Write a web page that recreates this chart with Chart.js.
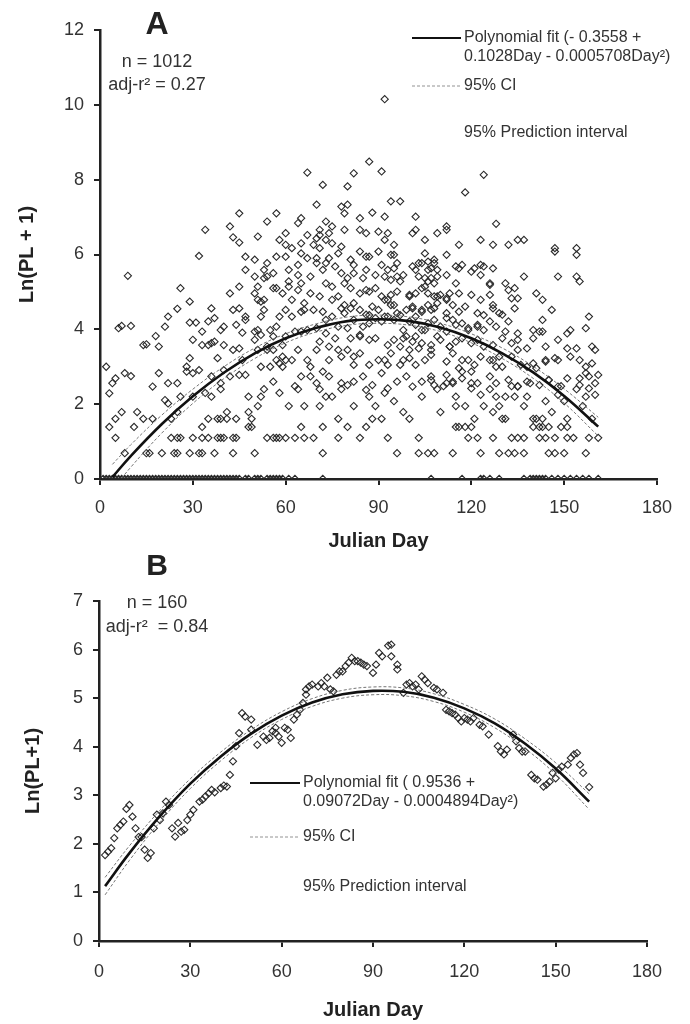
<!DOCTYPE html>
<html>
<head>
<meta charset="utf-8">
<script src="https://cdn.jsdelivr.net/npm/chart.js@4.4.1/dist/chart.umd.min.js"></script>
<style>
  body { margin: 0; background: #fff; }
  #wrap { position: relative; width: 690px; height: 1024px; }
  canvas { position: absolute; left: 0; }
</style>
</head>
<body>
<div id="wrap">
  <canvas id="chartA" width="690" height="560" style="top:0"></canvas>
  <canvas id="chartB" width="690" height="479" style="top:545px"></canvas>
</div>
<script>
// ---- panel A: individual samples ----
// days on which PL = 0 (ln(PL+1) = 0)
const zeroDaysA = [1,2,3,4,5,6,7,8,9,10,11,12,13,14,15,16,17,18,19,20,21,22,23,24,25,26,27,28,29,30,
    31,32,33,34,35,36,37,38,39,40,41,42,43,44,45,47,48,50,51,52,54,55,56,57,58,59,61,63,72,
    107,117,123,124,126,129,137,139,140,141,142,143,144,146,148,150,152,154,156,158,161];

// [Julian day, ln(PL+1)] for the non-zero samples
const samplesA = [
  [2,3.0],[3,2.29],[4,2.56],[5,2.69],[3,1.39],[5,1.61],[5,1.10],[6,4.03],[7,4.09],[8,2.83],[9,5.43],[10,4.09],[10,2.75],[7,1.79],[8,0.69],
  [11,1.39],[12,1.79],[14,3.58],[15,3.60],[14,1.61],[15,0.69],[16,0.69],[17,1.61],[17,2.47],[18,3.82],[19,3.54],[19,2.83],[20,0.69],
  [21,4.07],[22,4.34],[22,2.56],[22,2.02],[21,2.11],[23,1.10],[23,1.61],[24,0.69],[25,0.69],[25,4.55],[25,2.56],[25,1.79],[25,1.10],
  [26,5.10],[26,2.20],[26,1.10],[28,2.87],[28,3.0],[29,3.23],[29,0.69],[29,4.18],[29,4.74],[30,2.20],[30,2.83],[30,1.10],[30,3.72],
  [31,4.18],[32,0.69],[32,5.96],[32,2.91],[33,0.69],[33,1.39],[33,1.10],[33,3.94],[33,3.58],[34,2.30],[35,4.21],[35,3.58],[35,1.61],
  [35,1.10],[36,3.63],[36,4.56],[36,2.20],[36,2.74],[37,3.67],[37,0.69],[37,4.30],[38,1.61],[38,1.10],[38,3.23],[39,1.61],[39,2.56],
  [39,2.40],[39,1.10],[39,3.98],[40,2.91],[40,1.10],[40,4.07],[40,3.58],[41,1.79],[41,1.61],[42,4.96],[42,2.74],[43,4.52],[43,1.10],
  [43,0.69],[44,4.12],[44,1.61],[44,1.10],[45,2.78],[45,5.14],[45,4.56],[45,3.49],[46,3.91],[47,4.34],[47,4.25],[48,2.20],[48,1.79],
  [47,2.78],[48,1.39],[49,1.61],[49,1.39],[47,5.94],[47,5.59],[50,5.86],[50,3.94],[50,5.41],[51,5.14],[51,4.79],[51,3.98],[51,3.45],
  [51,1.95],[50,0.69],[52,3.85],[52,4.74],[52,3.0],[52,2.20],[53,2.40],[53,5.59],[53,5.37],[53,4.79],[54,5.77],[54,5.41],[54,3.54],
  [54,1.10],[54,3.45],[55,3.0],[56,1.10],[56,5.50],[56,5.10],[56,3.45],[56,2.60],[57,4.07],[57,1.10],[57,5.10],[57,3.18],[58,3.09],
  [58,1.10],[58,2.30],[59,3.27],[59,3.58],[59,3.0],[60,5.94],[60,1.10],[60,4.52],[60,3.81],[61,5.14],[61,5.28],[61,1.95],[62,4.79],
  [63,3.94],[63,2.48],[63,1.10],[64,5.72],[64,5.45],[64,5.05],[64,2.40],[65,4.47],[65,1.39],[65,5.23],[65,3.94],[66,1.10],[66,1.95],
  [66,4.70],[66,4.52],[67,3.18],[67,5.90],[68,3.0],[68,2.74],[68,4.96],[69,1.10],[70,5.77],[70,4.03],[70,5.90],[71,3.67],[71,2.40],
  [72,4.47],[72,1.39],[72,2.87],[72,0.69],[73,2.20],[73,3.89],[73,5.23],[74,3.18],[74,5.90],[75,2.20],[75,4.79],[76,3.76],[77,3.45],
  [77,1.10],[78,5.50],[78,2.40],[78,4.56],
  [50,4.96],[53,4.52],[55,3.98],[58,4.34],[59,4.96],[61,5.59],[62,4.34],[64,3.45],[67,3.98],[68,5.41],[69,4.52],[70,3.45],[71,4.88],
  [72,5.59],[73,4.25],[74,3.54],[75,5.14],[75,4.34],[76,5.68],[77,4.07],[77,4.88],[78,3.27],[79,4.43],[79,5.23],[62,3.18],[65,2.74],
  [70,2.56],[74,2.74],[78,2.56],[71,1.95],[77,1.61],[60,3.18],[56,3.81],[52,4.34],[50,3.72],[46,3.18],[43,3.45],[57,5.94],[65,6.03],
  [73,5.77],[77,6.03],
  [96,0.69],[103,0.69],[106,0.69],[108,0.69],[114,0.69],[123,0.69],[129,0.69],[132,0.69],[134,0.69],[137,0.69],[145,0.69],[147,0.69],
  [150,0.69],[157,0.69],
  [84,1.10],[93,1.10],[103,1.10],[119,1.10],[122,1.10],[127,1.10],[133,1.10],[135,1.10],[137,1.10],[142,1.10],[144,1.10],[147,1.10],
  [151,1.10],[153,1.10],[158,1.10],[161,1.10],
  [115,1.39],[116,1.39],[118,1.39],[120,1.39],[140,1.39],[142,1.39],[143,1.39],[145,1.39],[149,1.39],[151,1.39],
  [80,1.39],[86,1.39],[88,1.61],[91,1.61],[82,1.95],[87,2.20],[89,1.95],[92,2.30],[95,2.08],[98,1.79],[100,1.61],[104,2.20],[107,2.64],
  [110,1.79],[109,2.40],[111,2.48],[112,2.56],[114,2.56],[115,2.20],[115,1.95],[117,2.87],[118,1.95],[120,2.56],[121,1.61],[123,2.25],
  [124,1.95],[126,2.40],[127,1.79],[128,2.20],[129,1.95],[130,1.61],[131,1.61],[131,2.20],[133,2.48],[134,2.20],[135,2.48],[137,1.95],
  [138,2.20],[139,2.56],[140,1.61],[141,1.61],[143,1.61],[144,2.08],[145,2.64],[146,1.79],[148,2.25],[149,2.48],[150,2.08],[151,1.61],
  [154,2.40],[155,2.69],[156,1.95],[157,2.20],[158,2.74],[159,1.61],[160,2.56],[161,2.78],[160,2.25],
  [81,5.86],[86,5.94],[91,5.72],[92,5.41],[95,5.99],[96,5.77],[101,5.68],[104,5.77],[106,5.59],[109,5.41],[112,5.45],[115,5.68],
  [117,5.72],[120,5.54],[124,5.68],[126,5.19],[131,5.23],[134,5.10],[137,5.41],[141,4.96],[143,4.79],[146,4.52],[148,5.41],[154,5.41],
  [155,5.28],[147,6.08],[154,5.99],[135,4.83],[116,4.96],[112,4.79],[105,5.14],[100,4.88],[92,4.79],[86,5.05],[82,4.70],[87,4.38],
  [90,4.52],[93,4.34],[95,4.65],[97,4.38],[101,4.56],[104,4.52],[107,4.52],[109,4.88],[112,4.30],[114,4.25],[117,4.16],[119,3.98],
  [122,4.07],[124,4.38],[127,4.56],[129,4.43],[132,4.21],[135,3.72],[140,3.76],[142,3.94],[143,4.25],[148,3.72],[151,3.89],[152,3.98],
  [154,3.49],[157,4.03],[158,4.34],[159,3.54],[160,3.45],[155,3.18],[157,2.83],[148,3.18],[144,3.18],[140,3.09],[138,3.0],[135,3.45],
  [130,3.0],[129,3.27],[127,3.18],[123,3.27],[120,2.87],[117,3.18],[113,3.54],[109,3.81],[107,3.45],[104,3.63],[102,3.81],[98,3.18],
  [93,3.05],[90,3.18],[87,3.05],[82,3.27],[80,3.45],[84,3.81],[85,4.07],[89,3.76],[98,3.76],[100,3.45],[105,3.98],[80,2.51],[86,2.38],
  [84,6.08],[87,5.94],[90,6.08],[94,5.99],[105,6.03],[106,5.81],[108,5.86],[112,5.99],
  [82,5.72],[86,5.59],[93,5.59],[95,5.63],[102,5.59],[103,5.77],[107,5.63],[108,5.77],[109,5.59],[116,5.63],[121,5.63],[123,5.72],[127,5.63],
  [80,5.37],[82,5.50],[85,5.37],[89,5.45],[94,5.32],[96,5.41],[97,5.28],[98,5.45],[103,5.41],[105,5.37],[106,5.28],[107,5.37],[108,5.23],
  [115,5.23],[123,5.45],[126,5.23],
  [81,5.10],[84,4.96],[87,5.01],[89,5.10],[91,4.88],[93,4.79],[94,4.92],[96,5.01],[100,4.92],[102,4.96],[104,5.10],[106,4.96],[108,4.88],
  [110,4.92],[112,4.83],[113,4.96],[120,4.92],[123,4.79],[126,4.92],[132,5.05],[133,4.83],
  [79,4.65],[81,4.56],[84,4.52],[86,4.39],[88,4.61],[92,4.34],[94,4.65],[96,4.43],[99,4.52],[101,4.61],[102,4.34],[104,4.47],[106,4.65],
  [108,4.56],[109,4.70],[112,4.43],[114,4.65],[116,4.47],[118,4.61],[122,4.43],[127,4.65],[130,4.39],[134,4.56],
  [80,4.03],[82,4.25],[87,4.16],[89,4.30],[91,4.21],[95,4.25],[98,3.98],[100,4.21],[102,4.12],[104,3.98],[106,4.16],[108,4.25],[110,4.07],
  [112,3.94],[115,4.12],[119,4.03],[122,4.12],[124,3.98],[126,4.21],[128,4.07],[131,3.94],[135,3.89],[140,3.98],[143,3.94],
  [81,3.76],[84,3.85],[87,3.72],[93,3.58],[95,3.72],[97,3.54],[99,3.81],[101,3.67],[103,3.49],[107,3.58],[110,3.72],[113,3.54],[115,3.67],
  [117,3.76],[120,3.63],[122,3.72],[124,3.54],[127,3.58],[130,3.76],[133,3.63],[138,3.49],[144,3.54],[151,3.49],
  [82,3.05],[84,3.36],[92,3.18],[94,3.36],[97,3.05],[100,3.23],[102,3.05],[105,3.18],[107,3.32],[112,3.14],[114,3.36],[116,2.96],[119,3.18],
  [121,3.05],[126,3.18],[128,3.00],[133,3.27],[136,3.05],[141,2.96],[144,3.14],[147,3.23],[152,3.27],[157,3.00],[159,3.09],
  [82,2.60],[85,2.74],[88,2.51],[91,2.83],[93,2.42],[96,2.60],[99,2.74],[101,2.47],[104,2.60],[107,2.74],[108,2.51],[112,2.78],[114,2.60],
  [117,2.69],[120,2.42],[122,2.56],[126,2.74],[128,2.56],[132,2.65],[135,2.47],[138,2.60],[142,2.51],[145,2.65],[148,2.47],[151,2.69],
  [155,2.51],[158,2.42],
  [34,6.66],[42,6.75],[45,7.10],[43,6.46],[45,6.32],[51,6.48],[54,6.88],[57,7.10],[58,6.39],[60,6.57],[64,6.84],[65,6.97],[67,6.52],
  [67,8.19],[70,7.33],[71,6.66],[72,7.86],[73,6.88],[75,6.75],[78,7.28],[79,7.10],[79,6.66],[70,6.43],[71,6.52],[74,6.57],
  [60,6.26],[65,6.30],[69,6.26],[73,6.39],[75,6.30],[78,6.21],[71,6.17],[62,6.17],
  [92,10.15],[87,8.48],[91,8.22],[82,8.17],[80,7.82],[124,8.13],[118,7.66],[94,7.42],[97,7.42],[88,7.12],[84,6.97],[92,7.01],[102,7.01],
  [128,6.82],[112,6.75],[135,6.39],[137,6.39],[132,6.26],[102,6.66],[109,6.57],[147,6.17],[154,6.17],[80,7.33],
  [84,6.66],[86,6.57],[90,6.61],[92,6.39],[93,6.57],[95,6.26],[101,6.57],[105,6.39],[112,6.66],[116,6.26],[123,6.39],[127,6.26]
];

// fitted curve and 95% CI for A
const fitDayA = [4,10,20,30,40,50,60,70,80,90,100,110,120,130,140,150,161];
const fitA    = [0.05,0.62,1.47,2.21,2.84,3.36,3.76,4.04,4.22,4.27,4.22,4.05,3.76,3.36,2.85,2.22,1.40];
const ciLowA  = [-0.29,0.32,1.23,2.02,2.68,3.22,3.64,3.93,4.11,4.16,4.11,3.94,3.64,3.22,2.69,2.03,1.15];
const ciHighA = [0.39,0.92,1.71,2.40,3.00,3.50,3.88,4.15,4.33,4.38,4.33,4.16,3.88,3.50,3.01,2.41,1.65];

// ---- panel B: [Julian day, ln(PL+1)] ----
const samplesB = [
  [2,1.77],[3,1.84],[4,1.91],[5,2.12],[6,2.32],[7,2.39],[8,2.46],[9,2.72],[10,2.80],[11,2.56],[12,2.32],[13,2.14],[14,2.14],[15,1.88],
  [16,1.71],[17,1.81],[18,2.32],[19,2.60],[20,2.49],[21,2.63],[22,2.87],[23,2.80],[24,2.32],[25,2.15],[26,2.43],[27,2.25],[28,2.29],
  [29,2.49],[30,2.60],[31,2.70],[33,2.87],[34,2.91],[35,2.98],[36,3.04],[37,3.11],[38,3.06],[40,3.15],[41,3.20],[42,3.18],[43,3.42],
  [44,3.70],[45,4.01],[46,4.28],[47,4.69],[48,4.62],[50,4.56],[50,4.35],[52,4.04],[54,4.21],[55,4.14],[56,4.18],[57,4.32],[58,4.39],
  [58,4.28],[59,4.21],[60,4.08],[61,4.39],[62,4.35],[63,4.18],[64,4.56],[65,4.66],[66,4.76],[67,4.90],[68,5.07],[68,5.18],[69,5.24],
  [70,5.28],[72,5.24],[73,5.31],[74,5.24],[75,5.42],[76,5.18],[77,5.14],[78,5.48],[79,5.55],[80,5.55],[81,5.66],[82,5.73],[83,5.83],
  [84,5.76],[85,5.76],[86,5.73],[87,5.69],[88,5.66],[90,5.52],[91,5.69],[92,5.93],[93,5.86],[95,6.08],[96,6.10],[96,5.86],[98,5.69],
  [98,5.59],[100,5.11],[101,5.28],[102,5.31],[103,5.24],[104,5.28],[105,5.18],[106,5.45],[107,5.38],[108,5.31],[110,5.21],[111,5.18],
  [113,5.11],[114,4.76],[115,4.73],[116,4.69],[117,4.66],[118,4.59],[119,4.52],[120,4.59],[121,4.56],[122,4.52],[123,4.59],[125,4.45],
  [126,4.42],[128,4.25],[131,4.01],[132,3.90],[133,3.84],[134,3.94],[136,4.25],[137,4.11],[138,3.97],[139,3.90],[140,3.90],[142,3.42],
  [143,3.35],[144,3.32],[146,3.18],[147,3.22],[148,3.28],[149,3.46],[150,3.35],[151,3.53],[152,3.59],[154,3.63],[155,3.77],[156,3.84],
  [157,3.87],[158,3.63],[159,3.46],[161,3.17]
];

const fitDayB = [2,10,20,30,40,50,60,70,80,90,100,110,120,130,140,150,161];
const fitB    = [1.13,1.81,2.57,3.24,3.80,4.27,4.64,4.91,5.08,5.15,5.13,5.01,4.79,4.48,4.06,3.55,2.87];
const ciLowB  = [0.95,1.66,2.45,3.14,3.71,4.19,4.56,4.83,5.00,5.07,5.05,4.93,4.71,4.39,3.96,3.43,2.71];
const ciHighB = [1.31,1.96,2.69,3.34,3.89,4.35,4.72,4.99,5.16,5.23,5.21,5.09,4.87,4.57,4.16,3.67,3.03];

const FONT = "'Liberation Sans', Arial, sans-serif";
const INK = '#222';

function pts(xs, ys) { return xs.map((x, i) => ({ x: x, y: ys[i] })); }
function pairs(list) { return list.map(p => ({ x: p[0], y: p[1] })); }

function makeDatasets(samples, fd, fit, lo, hi) {
    const dashed = {
        type: 'line', borderColor: '#666', borderWidth: 0.9, borderDash: [3, 2],
        pointRadius: 0, fill: false, tension: 0.4
    };
    return [
        { type: 'line', data: pts(fd, fit), borderColor: '#111', borderWidth: 2.6,
          pointRadius: 0, fill: false, tension: 0.4 },
        Object.assign({ data: pts(fd, lo) }, dashed),
        Object.assign({ data: pts(fd, hi) }, dashed),
        { type: 'scatter', data: samples, pointStyle: 'rectRot', pointRadius: 3.6,
          borderColor: '#2a2a2a', borderWidth: 1.1, backgroundColor: 'rgba(255,255,255,0)' }
    ];
}

function axisOpts(min, max, step, title, fit, titlePad, tickPad) {
    return {
        type: 'linear', min: min, max: max,
        ticks: { stepSize: step, color: '#333', font: { family: FONT, size: 18 }, padding: tickPad },
        grid: { drawOnChartArea: false, drawTicks: true, tickLength: 6, color: INK, lineWidth: 2 },
        border: { display: true, color: INK, width: 2.5 },
        title: { display: true, text: title, color: INK, font: { family: FONT, size: 20, weight: 'bold' }, padding: titlePad },
        afterFit: fit
    };
}

// draws panel letters, stats and the legend block
function notes(cfg) {
    return {
        id: 'notes',
        afterDraw(chart) {
            const ctx = chart.ctx;
            ctx.save();
            ctx.fillStyle = INK;
            ctx.textBaseline = 'middle';
            ctx.textAlign = 'center';
            ctx.font = 'bold ' + cfg.letterSize + 'px ' + FONT;
            ctx.fillText(cfg.letter, 157, cfg.letterY);
            ctx.font = '18px ' + FONT;
            ctx.fillStyle = '#333';
            cfg.stats.forEach(s => ctx.fillText(s[0], 157, s[1]));

            const L = cfg.legend;
            ctx.textAlign = 'left';
            ctx.font = '16px ' + FONT;
            ctx.strokeStyle = '#111';
            ctx.lineWidth = 2;
            ctx.beginPath(); ctx.moveTo(L.x0, L.y1); ctx.lineTo(L.x1, L.y1); ctx.stroke();
            ctx.fillText(L.fit[0], L.x1 + 3, L.y1);
            ctx.fillText(L.fit[1], L.x1 + 3, L.y1 + 19);
            ctx.strokeStyle = '#777';
            ctx.lineWidth = 0.8;
            ctx.setLineDash([3, 2]);
            ctx.beginPath(); ctx.moveTo(L.x0, L.y2); ctx.lineTo(L.x1, L.y2); ctx.stroke();
            ctx.setLineDash([]);
            ctx.fillText('95% CI', L.x1 + 3, L.y2);
            ctx.fillText('95% Prediction interval', L.x1 + 3, L.y3);
            ctx.restore();
        }
    };
}

const pointsA = zeroDaysA.map(d => ({ x: d, y: 0 })).concat(pairs(samplesA));

new Chart(document.getElementById('chartA'), {
    type: 'scatter',
    data: { datasets: makeDatasets(pointsA, fitDayA, fitA, ciLowA, ciHighA) },
    options: {
        responsive: false, animation: false, devicePixelRatio: 1,
        layout: { padding: { top: 30, right: 33, left: 0, bottom: 0 } },
        plugins: { legend: { display: false }, tooltip: { enabled: false } },
        scales: {
            x: axisOpts(0, 180, 30, 'Julian Day', s => { s.height = 81; }, { bottom: 7 }, 12),
            y: axisOpts(0, 12, 2, 'Ln(PL + 1)', s => { s.width = 100; }, { top: 15 }, 10)
        }
    },
    plugins: [notes({
        letter: 'A', letterSize: 32, letterY: 25,
        stats: [['n = 1012', 62], ['adj-r\u00B2 = 0.27', 85]],
        legend: { x0: 412, x1: 461, y1: 38, y2: 86, y3: 133,
                  fit: ['Polynomial fit (- 0.3558 +', '0.1028Day - 0.0005708Day\u00B2)'] }
    })]
});

new Chart(document.getElementById('chartB'), {
    type: 'scatter',
    data: { datasets: makeDatasets(pairs(samplesB), fitDayB, fitB, ciLowB, ciHighB) },
    options: {
        responsive: false, animation: false, devicePixelRatio: 1,
        layout: { padding: { top: 56, right: 43, left: 0, bottom: 0 } },
        plugins: { legend: { display: false }, tooltip: { enabled: false } },
        scales: {
            x: axisOpts(0, 180, 30, 'Julian Day', s => { s.height = 83; }, { bottom: 2 }, 14),
            y: axisOpts(0, 7, 1, 'Ln(PL+1)', s => { s.width = 99; }, { top: 21 }, 10)
        }
    },
    plugins: [notes({
        letter: 'B', letterSize: 30, letterY: 22,
        stats: [['n = 160', 58], ['adj-r\u00B2  = 0.84', 82]],
        legend: { x0: 250, x1: 300, y1: 238, y2: 292, y3: 342,
                  fit: ['Polynomial fit ( 0.9536 +', '0.09072Day - 0.0004894Day\u00B2)'] }
    })]
});
</script>
</body>
</html>
